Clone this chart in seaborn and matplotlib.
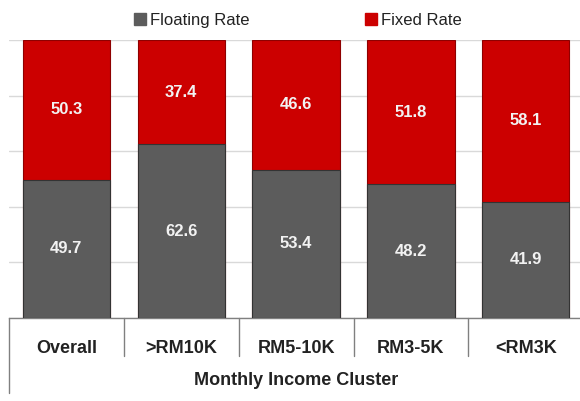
import numpy as np
import pandas as pd
import matplotlib
matplotlib.use("Agg")
import matplotlib.pyplot as plt
import matplotlib.transforms as mtransforms
from matplotlib.lines import Line2D
import seaborn as sns

# data
categories = ["Overall", ">RM10K", "RM5-10K", "RM3-5K", "<RM3K"]
floating = [49.7, 62.6, 53.4, 48.2, 41.9]
fixed = [50.3, 37.4, 46.6, 51.8, 58.1]
series_names = ["Floating Rate", "Fixed Rate"]
x_title = "Monthly Income Cluster"

GRAY = "#5c5c5c"
RED = "#cc0000"

df = pd.DataFrame({"cluster": categories, "floating": floating, "fixed": fixed})
df["total"] = df["floating"] + df["fixed"]

sns.set_style("white")
plt.rcParams["font.family"] = ["Liberation Sans", "DejaVu Sans"]

fig = plt.figure(figsize=(5.8, 4.01), dpi=100)
ax = fig.add_axes([0.0155, 0.207, 0.99, 0.693])

# stacked bars: full height in red, floating part in gray on top of it
sns.barplot(data=df, x="cluster", y="total", color=RED, width=0.76,
            edgecolor="#8e0000", linewidth=0.8, saturation=1, ax=ax, zorder=2)
sns.barplot(data=df, x="cluster", y="floating", color=GRAY, width=0.76,
            edgecolor="#333333", linewidth=0.8, saturation=1, ax=ax, zorder=3)

# value labels centred in each segment
for i, (fl, fx) in enumerate(zip(floating, fixed)):
    ax.text(i, fl / 2, f"{fl:.1f}", ha="center", va="center", color="#f2f2f2",
            fontsize=12, fontweight="bold", zorder=5)
    ax.text(i, fl + fx / 2, f"{fx:.1f}", ha="center", va="center", color="#f2f2f2",
            fontsize=12, fontweight="bold", zorder=5)

ax.set_ylim(0, 100)
ax.set_xlim(-0.5, 4.5)
ax.set_yticks(np.arange(0, 101, 20))
ax.yaxis.grid(True, color="#d9d9d9", linewidth=1)
ax.set_axisbelow(True)
ax.set_yticklabels([])
ax.tick_params(axis="both", length=0)
for s in ["top", "right", "left"]:
    ax.spines[s].set_visible(False)
ax.spines["bottom"].set_color("#808080")
ax.spines["bottom"].set_linewidth(1)

ax.set_xticks(range(len(categories)))
ax.set_xticklabels(categories, fontsize=13, fontweight="bold", color="#222222")
ax.tick_params(axis="x", pad=16)
ax.set_xlabel(x_title, fontsize=13, fontweight="bold", color="#222222", labelpad=11)
ax.set_ylabel("")

# table-like separators under the axis
trans = mtransforms.blended_transform_factory(ax.transData, ax.transAxes)
for xs in [0.5, 1.5, 2.5, 3.5]:
    ax.add_line(Line2D([xs, xs], [0, -0.135], transform=trans, color="#808080",
                       linewidth=1, clip_on=False))
ax.add_line(Line2D([-0.5, -0.5], [0, -0.27], transform=trans, color="#808080",
                   linewidth=1, clip_on=False))

handles = [
    Line2D([], [], marker="s", linestyle="", markersize=8, markerfacecolor=GRAY,
           markeredgecolor=GRAY),
    Line2D([], [], marker="s", linestyle="", markersize=8, markerfacecolor=RED,
           markeredgecolor=RED),
]
fig.legend(handles, series_names, loc="center", bbox_to_anchor=(0.515, 0.95),
           ncol=2, frameon=False, fontsize=12, handlelength=0.6,
           handletextpad=0.3, columnspacing=7.0, labelcolor="#222222")

fig.savefig("out.png", dpi=100)
